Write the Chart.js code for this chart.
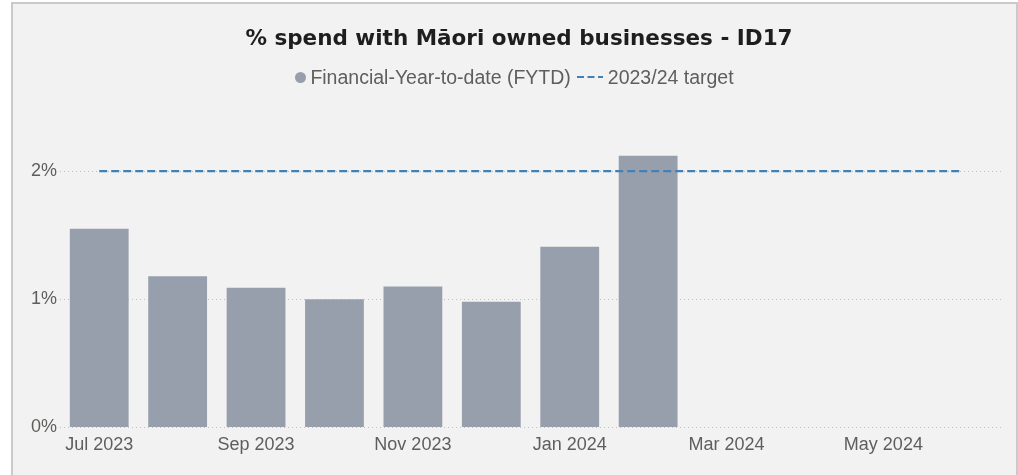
<!DOCTYPE html>
<html>
<head>
<meta charset="utf-8">
<script src="https://cdn.jsdelivr.net/npm/chart.js@4.4.1/dist/chart.umd.min.js"></script>
<style>
  html, body { margin: 0; padding: 0; background: #ffffff; }
  #panel {
    position: absolute;
    left: 11px;
    top: 2px;
    width: 1003px;
    height: 473px;
    background: #f2f2f2;
    border: 2px solid #cacaca;
    border-bottom: none;
  }
  #chart { display: block; position: absolute; left: 0; top: 0; }
  #title {
    position: absolute;
    left: 9px; right: 0; top: 21px;
    height: 26px; line-height: 26px;
    text-align: center;
    font: bold 21.5px 'DejaVu Sans', sans-serif;
    color: #1e1e1e;
  }
  #legend {
    position: absolute;
    left: 0; right: 0; top: 62px;
    height: 22px;
    display: flex; justify-content: center; align-items: center;
    font: 19.5px 'Liberation Sans', Arial, sans-serif;
    color: #605e5c;
  }
  #legend .dot {
    width: 11px; height: 11px; border-radius: 50%;
    margin-right: 4px;
  }
  #legend svg { margin: 0 5px 0 6px; }
</style>
</head>
<body>
<div id="panel">
  <canvas id="chart" width="1003" height="473"></canvas>
  <div id="title"></div>
  <div id="legend"></div>
</div>
<script>
const months = ["Jul 2023", "Aug 2023", "Sep 2023", "Oct 2023", "Nov 2023", "Dec 2023",
                "Jan 2024", "Feb 2024", "Mar 2024", "Apr 2024", "May 2024", "Jun 2024"];
// FYTD % spend, no figures yet from March on
const fytdSpend = [1.55, 1.18, 1.09, 1.00, 1.10, 0.98, 1.41, 2.12, null, null, null, null];
const targetSpend = [2, 2, 2, 2, 2, 2, 2, 2, 2, 2, 2, 2];
const yTicks = [0, 1, 2];

const titleText = "% spend with Māori owned businesses - ID17";
const barLabel = "Financial-Year-to-date (FYTD)";
const targetLabel = "2023/24 target";

const barColor = "#979fad";
const targetColor = "#4280b6";
const fontFamily = "'Liberation Sans', Arial, sans-serif";
const tickColor = "#605e5c";

document.getElementById("title").textContent = titleText;

// legend: grey dot for the bars, short dashed stroke for the target
const legend = document.getElementById("legend");
legend.innerHTML = `
  <span class="dot" style="background:${barColor}"></span>
  <span>${barLabel}</span>
  <svg width="26" height="4"><line x1="0" y1="2" x2="26" y2="2" stroke="${targetColor}"
       stroke-width="2" stroke-dasharray="7 3.5"/></svg>
  <span>${targetLabel}</span>`;

const ctx = document.getElementById("chart").getContext("2d");
const chart = new Chart(ctx, {
  type: "bar",
  data: {
    labels: months,
    datasets: [
      {
        type: "line",
        label: targetLabel,
        data: targetSpend,
        borderColor: targetColor,
        borderWidth: 2.2,
        borderDash: [8, 4],
        pointRadius: 0,
        fill: false
      },
      {
        label: barLabel,
        data: fytdSpend,
        backgroundColor: barColor,
        borderWidth: 0,
        barPercentage: 0.75,
        categoryPercentage: 1
      }
    ]
  },
  options: {
    responsive: false,
    animation: false,
    layout: { padding: { left: 15, right: 15, top: 103, bottom: 22 } },
    plugins: {
      legend: { display: false },
      tooltip: { enabled: false }
    },
    scales: {
      x: {
        grid: { display: false },
        border: { display: false },
        ticks: {
          autoSkip: false,
          maxRotation: 0,
          padding: -1,
          color: tickColor,
          font: { family: fontFamily, size: 18 },
          callback: (v, i) => (i % 2 === 0 ? months[i] : "")
        }
      },
      y: {
        min: 0,
        max: 2.5,
        afterBuildTicks: axis => { axis.ticks = yTicks.map(v => ({ value: v })); },
        border: { display: false, dash: [1, 3] },
        grid: { color: "#c0c0c0", lineWidth: 1, drawTicks: false },
        ticks: {
          padding: 3,
          color: tickColor,
          font: { family: fontFamily, size: 18 },
          callback: v => v + "%"
        }
      }
    }
  }
});
</script>
</body>
</html>
